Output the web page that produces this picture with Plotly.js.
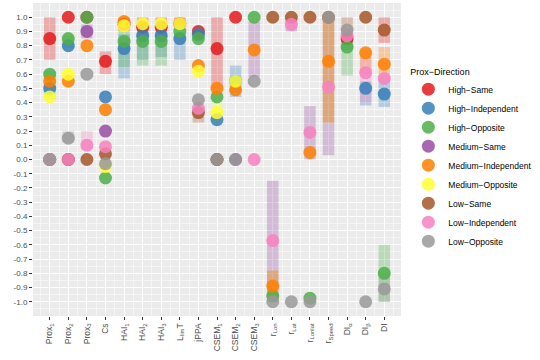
<!DOCTYPE html>
<html>
<head>
<meta charset="utf-8">
<script src="https://cdn.plot.ly/plotly-3.0.1.min.js"></script>
<style>
  body { margin: 0; background: #fff; }
  #chart { width: 540px; height: 360px; }
</style>
</head>
<body>
<div id="chart"></div>
<script>
// categories along x
const categories = ["Prox<sub>1</sub>", "Prox<sub>2</sub>", "Prox<sub>3</sub>", "Cs", "HAI<sub>1</sub>", "HAI<sub>2</sub>",
    "HAI<sub>3</sub>", "L<sub>lim</sub>T", "jPPA", "CSEM<sub>1</sub>", "CSEM<sub>2</sub>", "CSEM<sub>3</sub>",
    "r<sub>Lon</sub>", "r<sub>Lat</sub>", "r<sub>Lonlat</sub>", "r<sub>Speed</sub>", "DI<sub>α</sub>", "DI<sub>β</sub>", "DI"];

const groups = ["High−Same", "High−Independent", "High−Opposite", "Medium−Same", "Medium−Independent",
    "Medium−Opposite", "Low−Same", "Low−Independent", "Low−Opposite"];
const colors = ["#E41A1C", "#377EB8", "#4DAF4A", "#984EA3", "#FF7F00", "#FFFF33", "#A65628", "#F781BF", "#999999"];

// point values, one per category (null = no point)
const highSame = [0.85, 1.00, 1.00, 0.69, 0.95, 0.93, 0.93, 0.955, 0.90, 0.78, 1.00, null, null, null, null, null, 0.85, null, null];
const highInd = [0.50, 0.80, null, 0.44, 0.78, 0.87, 0.87, 0.85, 0.88, 0.28, 0.55, null, null, null, null, null, null, 0.50, 0.46];
const highOpp = [0.60, 0.85, 1.00, -0.13, 0.83, 0.83, 0.83, 0.90, 0.85, 0.44, null, 1.00, -0.96, null, -0.975, null, 0.79, null, -0.80];
const medSame = [0.00, 0.00, 0.90, 0.20, null, null, null, null, null, 0.00, 0.00, null, null, null, null, null, null, null, null];
const medInd = [0.55, 0.55, 0.80, 0.35, 0.97, null, null, null, 0.66, 0.50, 0.49, 0.77, -0.89, null, 0.05, 0.69, null, 0.75, 0.67];
const medOpp = [0.44, 0.60, null, -0.05, 0.94, 0.955, 0.955, 0.955, 0.62, 0.33, 0.55, null, null, null, null, null, null, null, null];
const lowSame = [0.00, 0.00, 0.00, 0.04, null, null, null, null, 0.33, 0.00, null, null, 1.00, 1.00, 1.00, 1.00, null, 1.00, 0.91];
const lowInd = [0.00, 0.00, 0.10, 0.09, null, null, null, null, 0.36, null, null, 0.00, -0.57, 0.95, 0.19, 0.51, 0.87, 0.61, 0.57];
const lowOpp = [0.00, 0.15, 0.60, -0.03, null, null, null, null, 0.42, 0.00, 0.00, 0.55, -1.00, -1.00, -1.00, 1.00, 0.91, -1.00, -0.91];

// range bars: [category index, low, high]
const highSameBars = [[0, 0.70, 1.00], [3, 0.60, 0.76], [4, 0.90, 1.00], [5, 0.90, 1.00], [6, 0.90, 1.00], [7, 0.93, 1.00], [9, 0.49, 1.00], [18, 0.82, 1.00]];
const highIndBars = [[4, 0.57, 0.88], [5, 0.70, 0.90], [6, 0.72, 0.90], [7, 0.70, 0.89], [10, 0.44, 0.66], [16, 0.77, 0.85], [17, 0.38, 0.55], [18, 0.37, 0.57]];
const highOppBars = [[0, 0.42, 0.62], [1, 0.78, 0.87], [4, 0.65, 0.90], [5, 0.66, 0.90], [6, 0.66, 0.90], [8, 0.83, 0.89], [16, 0.59, 0.85], [18, -1.00, -0.60]];
const medSameBars = [[2, 0.85, 0.95], [11, 0.58, 0.97], [12, -0.78, -0.15], [13, 0.90, 1.00], [14, 0.00, 0.375], [15, 0.03, 0.26]];
const medIndBars = [[12, -1.00, -0.78], [15, 0.26, 1.00], [17, 0.60, 0.77], [18, 0.57, 0.79]];
const medOppBars = [[1, 0.53, 0.62], [9, 0.25, 0.40]];
const lowSameBars = [[8, 0.26, 0.35], [10, 0.47, 0.50], [12, -1.00, -0.78], [15, 0.26, 1.00], [16, 0.82, 1.00]];
const lowIndBars = [[2, 0.07, 0.20], [17, 0.40, 0.72]];
const lowOppBars = [[1, 0.12, 0.20], [18, -1.00, -0.80]];

const yTicks = [-1.0, -0.9, -0.8, -0.7, -0.6, -0.5, -0.4, -0.3, -0.2, -0.1, 0.0, 0.1, 0.2, 0.3, 0.4, 0.5, 0.6, 0.7, 0.8, 0.9, 1.0];

const pointSets = [highSame, highInd, highOpp, medSame, medInd, medOpp, lowSame, lowInd, lowOpp];
const barSets = [highSameBars, highIndBars, highOppBars, medSameBars, medIndBars, medOppBars, lowSameBars, lowIndBars, lowOppBars];
const xIdx = categories.map((c, i) => i);

let data = [];
// bars first so the points sit on top
barSets.forEach(function (bars, g) {
    data.push({
        type: "bar",
        x: bars.map(b => b[0]),
        base: bars.map(b => b[1]),
        y: bars.map(b => b[2] - b[1]),
        width: 0.62,
        marker: { color: colors[g], opacity: 0.3, line: { width: 0 } },
        showlegend: false,
        hoverinfo: "skip"
    });
});
pointSets.forEach(function (vals, g) {
    data.push({
        type: "scatter",
        mode: "markers",
        x: xIdx,
        y: vals,
        name: groups[g],
        marker: { color: colors[g], size: 13, opacity: 0.85, line: { width: 0 } }
    });
});

const layout = {
    width: 540,
    height: 360,
    margin: { l: 33, r: 108, t: 3, b: 44 },
    paper_bgcolor: "#ffffff",
    plot_bgcolor: "#EBEBEB",
    barmode: "overlay",
    font: { family: "Liberation Sans, Arial, sans-serif", size: 8.5, color: "#4D4D4D" },
    xaxis: {
        type: "linear",
        range: [-0.9, 18.9],
        tickmode: "array",
        tickvals: xIdx,
        ticktext: categories,
        tickangle: -90,
        ticks: "outside",
        ticklen: 3,
        tickcolor: "#333333",
        tickfont: { size: 8.5, color: "#4D4D4D" },
        showgrid: true,
        gridcolor: "#ffffff",
        gridwidth: 1,
        minor: { tick0: 0.5, dtick: 1, showgrid: true, gridcolor: "#ffffff", gridwidth: 0.5, ticklen: 0 },
        zeroline: false,
        showline: false
    },
    yaxis: {
        range: [-1.1, 1.1],
        tickmode: "array",
        tickvals: yTicks,
        ticktext: yTicks.map(v => v.toFixed(1)),
        ticks: "outside",
        ticklen: 3,
        tickcolor: "#333333",
        tickfont: { size: 8, color: "#4D4D4D" },
        showgrid: true,
        gridcolor: "#ffffff",
        gridwidth: 1,
        minor: { tick0: 0.05, dtick: 0.1, showgrid: true, gridcolor: "#ffffff", gridwidth: 0.5, ticklen: 0 },
        zeroline: false,
        showline: false
    },
    legend: {
        title: { text: "Prox−Direction", font: { size: 9, color: "#000000" } },
        font: { size: 8.5, color: "#000000" },
        x: 1.02,
        xanchor: "left",
        y: 0.5,
        yanchor: "middle",
        bgcolor: "rgba(0,0,0,0)",
        tracegroupgap: 0
    },
    showlegend: true
};

Plotly.newPlot("chart", data, layout, { staticPlot: true, displayModeBar: false });
</script>
</body>
</html>
